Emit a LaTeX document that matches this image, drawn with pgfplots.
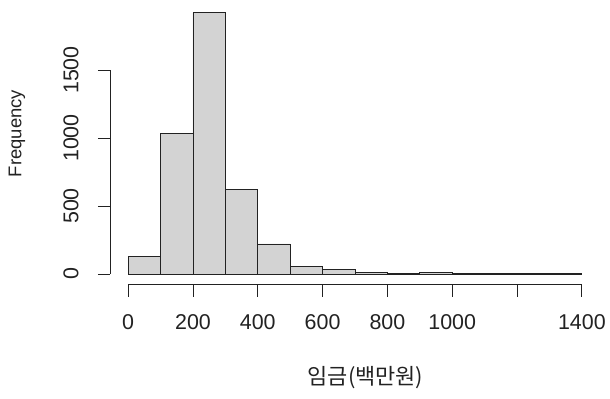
\documentclass[border=0pt]{standalone}
\usepackage{pgfplots}
\pgfplotsset{compat=1.18}
\usepackage{fontspec}
\setmainfont{Liberation Sans}
\newfontfamily\kr{Noto Sans CJK KR}
\definecolor{barfill}{HTML}{D3D3D3}
\definecolor{ink}{HTML}{222222}
\begin{document}
\begin{tikzpicture}
\useasboundingbox (-110bp,-114.5bp) rectangle (500bp,284.5bp);
\begin{axis}[
  at={(0,0)}, anchor=south west,
  scale only axis, width=490bp, height=282.5bp,
  xmin=-56, xmax=1456, ymin=-77, ymax=2000,
  axis lines*=left, axis line style={draw=none},
  tick align=outside, major tick length=12bp,
  tick style={ink, line width=0.9bp},
  scaled ticks=false,
  xtick={0,200,400,600,800,1000,1200,1400},
  xticklabels={0,200,400,600,800,1000,,1400},
  ytick={0,500,1000,1500},
  yticklabels={0,500,1000,1500},
  xticklabel style={anchor=center, yshift=-25.5bp, text=ink, font=\fontsize{21.5}{24}\selectfont},
  yticklabel style={rotate=90, anchor=center, yshift=27bp, text=ink, font=\fontsize{21.5}{24}\selectfont},
  clip=false,
]
\addplot[ybar interval, fill=barfill, draw=ink, line width=0.9bp] coordinates {
  (0,132) (100,1034) (200,1921) (300,623) (400,221) (500,54) (600,30)
  (700,10) (800,2) (900,9) (1000,1) (1100,1) (1200,1) (1300,1) (1400,0)
};
\draw[ink, line width=0.9bp] (axis cs:0,-77) -- (axis cs:1400,-77);
\draw[ink, line width=0.9bp] (axis cs:-56,0) -- (axis cs:-56,1500);
\end{axis}
\node[rotate=90, anchor=center, text=ink, font=\fontsize{18.5}{20}\selectfont] at (-93bp,151bp) {Frequency};
\node[anchor=center, text=ink, font=\kr\fontsize{22}{24}\selectfont] at (255.5bp,-93bp) {임금(백만원)};
\end{tikzpicture}
\end{document}
